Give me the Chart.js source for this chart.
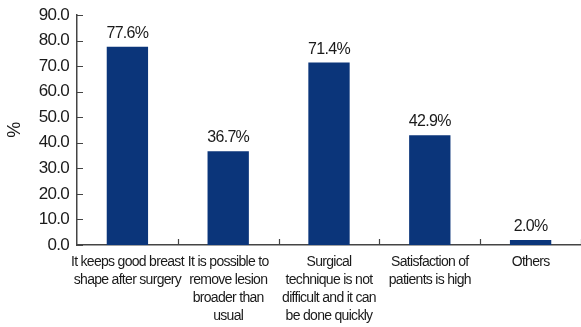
<!DOCTYPE html>
<html>
<head>
<meta charset="utf-8">
<script src="https://cdn.jsdelivr.net/npm/chart.js@4/dist/chart.umd.min.js"></script>
<style>
  html, body { margin: 0; padding: 0; background: #fff; }
  #wrap { width: 581px; height: 327px; }
</style>
</head>
<body>
<div id="wrap"><canvas id="myChart" width="581" height="327"></canvas></div>
<script>
// reasons given, as % of respondents
var reasons = [
  ['It keeps good breast', 'shape after surgery'],
  ['It is possible to', 'remove lesion', 'broader than', 'usual'],
  ['Surgical', 'technique is not', 'difficult and it can', 'be done quickly'],
  ['Satisfaction of', 'patients is high'],
  ['Others']
];
var percents = [77.6, 36.7, 71.4, 42.9, 2.0];
var yTicks = [0, 10, 20, 30, 40, 50, 60, 70, 80, 90];

var FONT = '"Liberation Sans", Arial, Helvetica, sans-serif';
var INK = '#1a1a1a';
var AXIS = '#444';

// tighter letter spacing for all text, close to a condensed Helvetica
var tightText = {
  id: 'tightText',
  beforeDraw: function (chart) {
    chart.ctx.letterSpacing = '-0.7px';
  }
};

// short tick marks drawn on the inside of both axes, plus value labels
var innerTicks = {
  id: 'innerTicks',
  afterDatasetsDraw: function (chart) {
    var ctx = chart.ctx;
    var x = chart.scales.x;
    var y = chart.scales.y;
    var area = chart.chartArea;
    ctx.save();
    ctx.strokeStyle = AXIS;
    ctx.lineWidth = 1.2;
    ctx.beginPath();
    yTicks.forEach(function (v) {
      var py = Math.round(y.getPixelForValue(v)) + 0.5;
      ctx.moveTo(area.left, py);
      ctx.lineTo(area.left + 6, py);
    });
    for (var i = 0; i < reasons.length; i++) {
      var px = i < reasons.length - 1
        ? (x.getPixelForTick(i) + x.getPixelForTick(i + 1)) / 2
        : area.right;
      px = Math.round(px) + 0.5;
      ctx.moveTo(px, area.bottom);
      ctx.lineTo(px, area.bottom - 6);
    }
    ctx.stroke();

    ctx.fillStyle = INK;
    ctx.font = '16px ' + FONT;
    ctx.letterSpacing = '-0.7px';
    ctx.textAlign = 'center';
    ctx.textBaseline = 'alphabetic';
    chart.getDatasetMeta(0).data.forEach(function (bar, i) {
      ctx.fillText(percents[i].toFixed(1) + '%', bar.x, bar.y - 9);
    });
    ctx.restore();
  }
};

var ctx = document.getElementById('myChart').getContext('2d');
var myChart = new Chart(ctx, {
  type: 'bar',
  data: {
    labels: reasons,
    datasets: [{
      data: percents,
      backgroundColor: '#0b357a',
      barPercentage: 0.41,
      categoryPercentage: 1.0
    }]
  },
  options: {
    responsive: false,
    animation: false,
    layout: { padding: { top: 0, right: 0, bottom: 0, left: 4 } },
    plugins: {
      legend: { display: false },
      tooltip: { enabled: false }
    },
    scales: {
      x: {
        grid: { display: false, drawTicks: false },
        border: { display: true, color: AXIS, width: 1.5 },
        ticks: {
          color: INK,
          font: { family: FONT, size: 14, lineHeight: '18px' },
          padding: 8,
          maxRotation: 0,
          autoSkip: false
        },
        afterFit: function (scale) { scale.height = 82; }
      },
      y: {
        min: 0,
        max: 90,
        grid: { display: false, drawTicks: false },
        border: { display: true, color: AXIS, width: 1.5 },
        ticks: {
          stepSize: 10,
          color: INK,
          font: { family: FONT, size: 17 },
          padding: 8,
          callback: function (v) { return v.toFixed(1); }
        },
        title: {
          display: true,
          text: '%',
          color: INK,
          font: { family: FONT, size: 18 },
          padding: { top: 0, bottom: 6 }
        },
        afterFit: function (scale) {
          scale.width = 73;
          scale.paddingTop = 15;
        }
      }
    }
  },
  plugins: [tightText, innerTicks]
});
</script>
</body>
</html>
